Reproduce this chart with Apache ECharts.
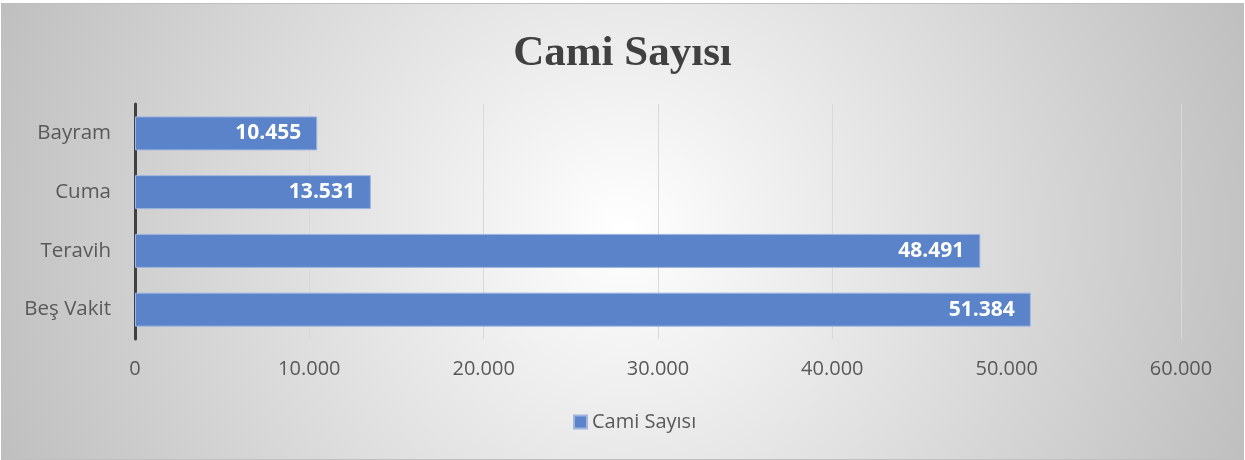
<!DOCTYPE html>
<html>
<head>
<meta charset="utf-8">
<script src="https://cdn.jsdelivr.net/npm/echarts@6/dist/echarts.min.js"></script>
<style>
  html, body { margin: 0; padding: 0; background: #fff; }
  #chart {
    position: absolute; left: 1px; top: 3px;
    width: 1241px; height: 455px;
    border: 1px solid #bfbfbf;
    background: radial-gradient(circle farthest-corner at 50% 50%, #ffffff 0%, #f3f3f3 18%, #bfbfbf 100%);
  }
</style>
</head>
<body>
<div id="chart"></div>
<script>
// bottom to top, as ECharts draws a category y axis
const categories = ["Beş Vakit", "Teravih", "Cuma", "Bayram"];
const camiSayisi = [51384, 48491, 13531, 10455];
const seriesName = "Cami Sayısı";
const xTicks = { min: 0, max: 60000, interval: 10000 };

const fmt = v => String(v).replace(/\B(?=(\d{3})+(?!\d))/g, ".");

const chart = echarts.init(document.getElementById("chart"));

chart.setOption({
  backgroundColor: "transparent",
  title: {
    text: "Cami Sayısı",
    left: "center",
    top: 23,
    textStyle: { fontFamily: "Liberation Serif", fontWeight: "bold", fontSize: 43, color: "#404040" }
  },
  grid: { left: 133, right: 62, top: 100, bottom: 120 },
  legend: {
    bottom: 22,
    left: 566,
    icon: "rect",
    itemWidth: 13,
    itemHeight: 13,
    itemGap: 4,
    textStyle: { fontFamily: "Open Sans", fontSize: 20, color: "#595959" },
    data: [seriesName]
  },
  xAxis: {
    type: "value",
    min: xTicks.min,
    max: xTicks.max,
    interval: xTicks.interval,
    axisLine: { show: false },
    axisTick: { show: false },
    axisLabel: {
      margin: 20,
      formatter: fmt,
      fontFamily: "Open Sans", fontSize: 20, color: "#595959"
    },
    splitLine: { lineStyle: { color: "#d9d9d9", width: 1 } }
  },
  yAxis: {
    type: "category",
    data: categories,
    axisLine: { lineStyle: { color: "#404040", width: 3 } },
    axisTick: { show: false },
    axisLabel: { margin: 24, fontFamily: "Open Sans", fontSize: 20.5, color: "#595959" }
  },
  series: [{
    name: seriesName,
    type: "bar",
    data: camiSayisi,
    barWidth: 34,
    itemStyle: { color: "#5a83c9", borderColor: "#9fb6e0", borderWidth: 1 },
    label: {
      show: true,
      position: "insideRight",
      distance: 16,
      formatter: p => fmt(p.value),
      fontFamily: "Open Sans", fontWeight: "bold", fontSize: 21, color: "#ffffff"
    }
  }]
});
</script>
</body>
</html>
